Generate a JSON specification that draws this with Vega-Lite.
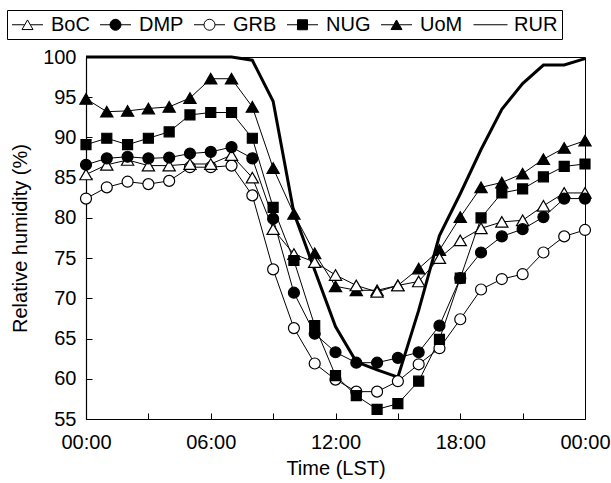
{
  "$schema": "https://vega.github.io/schema/vega-lite/v6.json",
  "width": 499,
  "height": 362,
  "autosize": {"type": "none"},
  "padding": {"left": 86, "top": 57, "right": 26, "bottom": 64},
  "background": "white",
  "config": {
    "font": "Liberation Sans",
    "view": {"stroke": "black", "strokeWidth": 1},
    "axis": {
      "grid": false,
      "domainColor": "black",
      "tickColor": "black",
      "labelColor": "black",
      "titleColor": "black",
      "labelFont": "Liberation Sans",
      "titleFont": "Liberation Sans",
      "labelFontSize": 20,
      "titleFontSize": 20,
      "titleFontWeight": "normal",
      "tickSize": -6,
      "labelPadding": 16,
      "domainWidth": 1.2
    },
    "legend": {
      "title": null,
      "orient": "none",
      "legendX": -79,
      "legendY": -47,
      "direction": "horizontal",
      "strokeColor": "black",
      "padding": 4,
      "labelFont": "Liberation Sans",
      "labelFontSize": 20,
      "labelColor": "black",
      "symbolSize": 400,
      "symbolOffset": 6,
      "labelOffset": 13,
      "columnPadding": 8,
      "symbolOpacity": 1,
      "symbolStrokeColor": "black"
    }
  },
  "data": {
    "values": [
      {"h": 0, "BoC": 85.4, "DMP": 86.6, "GRB": 82.4, "NUG": 89.1, "UoM": 94.8, "RUR": 100},
      {"h": 1, "BoC": 86.6, "DMP": 87.4, "GRB": 83.8, "NUG": 89.9, "UoM": 93.2, "RUR": 100},
      {"h": 2, "BoC": 87.2, "DMP": 87.6, "GRB": 84.5, "NUG": 89.1, "UoM": 93.3, "RUR": 100},
      {"h": 3, "BoC": 86.5, "DMP": 87.4, "GRB": 84.2, "NUG": 89.9, "UoM": 93.6, "RUR": 100},
      {"h": 4, "BoC": 86.5, "DMP": 87.5, "GRB": 84.6, "NUG": 90.7, "UoM": 93.8, "RUR": 100},
      {"h": 5, "BoC": 86.7, "DMP": 88.0, "GRB": 86.3, "NUG": 92.8, "UoM": 94.9, "RUR": 100},
      {"h": 6, "BoC": 86.7, "DMP": 88.2, "GRB": 86.3, "NUG": 93.1, "UoM": 97.3, "RUR": 100},
      {"h": 7, "BoC": 87.8, "DMP": 88.8, "GRB": 86.5, "NUG": 93.1, "UoM": 97.3, "RUR": 100},
      {"h": 8, "BoC": 85.0, "DMP": 87.4, "GRB": 82.8, "NUG": 89.9, "UoM": 93.8, "RUR": 99.6},
      {"h": 9, "BoC": 78.6, "DMP": 79.9, "GRB": 73.6, "NUG": 81.3, "UoM": 86.2, "RUR": 94.5},
      {"h": 10, "BoC": 75.5, "DMP": 70.7, "GRB": 66.3, "NUG": 74.7, "UoM": 80.5, "RUR": 80.6},
      {"h": 11, "BoC": 74.5, "DMP": 65.6, "GRB": 61.9, "NUG": 66.6, "UoM": 75.6, "RUR": 73.5},
      {"h": 12, "BoC": 72.9, "DMP": 63.3, "GRB": 59.9, "NUG": 60.4, "UoM": 71.5, "RUR": 66.5},
      {"h": 13, "BoC": 71.6, "DMP": 62.0, "GRB": 58.4, "NUG": 57.9, "UoM": 71.0, "RUR": 62.1},
      {"h": 14, "BoC": 70.8, "DMP": 62.0, "GRB": 58.4, "NUG": 56.2, "UoM": 71.0, "RUR": 61.1},
      {"h": 15, "BoC": 71.6, "DMP": 62.6, "GRB": 59.7, "NUG": 56.9, "UoM": 71.6, "RUR": 60.2},
      {"h": 16, "BoC": 72.1, "DMP": 63.3, "GRB": 61.8, "NUG": 59.7, "UoM": 73.7, "RUR": 68.5},
      {"h": 17, "BoC": 75.0, "DMP": 66.6, "GRB": 63.8, "NUG": 64.9, "UoM": 76.0, "RUR": 77.8},
      {"h": 18, "BoC": 77.2, "DMP": 72.5, "GRB": 67.4, "NUG": 72.5, "UoM": 80.1, "RUR": 83.0},
      {"h": 19, "BoC": 78.7, "DMP": 75.7, "GRB": 71.1, "NUG": 80.0, "UoM": 83.8, "RUR": 88.5},
      {"h": 20, "BoC": 79.5, "DMP": 77.7, "GRB": 72.4, "NUG": 83.1, "UoM": 84.4, "RUR": 93.5},
      {"h": 21, "BoC": 79.7, "DMP": 78.6, "GRB": 73.0, "NUG": 83.6, "UoM": 85.5, "RUR": 96.7},
      {"h": 22, "BoC": 81.5, "DMP": 80.1, "GRB": 75.7, "NUG": 85.1, "UoM": 87.3, "RUR": 99.0},
      {"h": 23, "BoC": 83.1, "DMP": 82.4, "GRB": 77.7, "NUG": 86.4, "UoM": 88.7, "RUR": 99.0},
      {"h": 24, "BoC": 83.1, "DMP": 82.4, "GRB": 78.5, "NUG": 86.7, "UoM": 89.6, "RUR": 99.8}
    ]
  },
  "transform": [
    {"fold": ["GRB", "UoM", "BoC", "DMP", "NUG", "RUR"], "as": ["series", "rh"]}
  ],
  "encoding": {
    "x": {
      "field": "h",
      "type": "quantitative",
      "scale": {"domain": [0, 24], "nice": false},
      "axis": {
        "values": [0, 3, 6, 9, 12, 15, 18, 21, 24],
        "labelExpr": "datum.value % 6 === 0 ? ((datum.value % 24) < 10 ? '0' : '') + (datum.value % 24) + ':00' : ''",
        "labelOverlap": false,
        "labelFlush": false,
        "labelPadding": 19,
        "title": "Time (LST)",
        "titlePadding": 6
      }
    },
    "y": {
      "field": "rh",
      "type": "quantitative",
      "scale": {"domain": [55, 100], "nice": false, "zero": false},
      "axis": {
        "values": [55, 60, 65, 70, 75, 80, 85, 90, 95, 100],
        "title": "Relative humidity (%)",
        "titlePadding": 12
      }
    }
  },
  "layer": [
    {
      "transform": [{"filter": "datum.series !== 'RUR'"}],
      "mark": {"type": "line", "color": "black", "strokeWidth": 1},
      "encoding": {"detail": {"field": "series", "type": "nominal"}}
    },
    {
      "transform": [{"filter": "datum.series === 'RUR'"}],
      "mark": {"type": "line", "color": "black", "strokeWidth": 3, "strokeJoin": "miter"},
      "encoding": {}
    },
    {
      "transform": [{"filter": "datum.series === 'GRB'"}],
      "mark": {"type": "point", "shape": "circle", "size": 121, "fill": "white", "stroke": "black", "strokeWidth": 1.2, "opacity": 1},
      "encoding": {}
    },
    {
      "transform": [{"filter": "datum.series === 'UoM'"}],
      "mark": {"type": "point", "shape": "triangle-up", "size": 150, "fill": "black", "stroke": "black", "strokeWidth": 1.2, "opacity": 1},
      "encoding": {}
    },
    {
      "transform": [{"filter": "datum.series === 'BoC'"}],
      "mark": {"type": "point", "shape": "triangle-up", "size": 150, "fill": "white", "stroke": "black", "strokeWidth": 1.2, "opacity": 1},
      "encoding": {}
    },
    {
      "transform": [{"filter": "datum.series === 'DMP'"}],
      "mark": {"type": "point", "shape": "circle", "size": 121, "fill": "black", "stroke": "black", "strokeWidth": 1.2, "opacity": 1},
      "encoding": {}
    },
    {
      "transform": [{"filter": "datum.series === 'NUG'"}],
      "mark": {"type": "point", "shape": "square", "size": 100, "fill": "black", "stroke": "black", "strokeWidth": 1.2, "opacity": 1},
      "encoding": {}
    },
    {
      "transform": [{"filter": "datum.h === 0"}],
      "mark": {"type": "point", "filled": false, "opacity": 0},
      "encoding": {
        "shape": {
          "field": "series",
          "type": "nominal",
          "scale": {
            "domain": ["BoC", "DMP", "GRB", "NUG", "UoM", "RUR"],
            "range": [
              "M-1.55,0L-0.28,0M0.28,0L1.55,0M0,-0.48L0.55,0.48L-0.55,0.48Z",
              "M-1.55,0L-0.55,0M0.55,0L1.55,0M0.55,0C0.55,0.3,0.3,0.55,0,0.55C-0.3,0.55,-0.55,0.3,-0.55,0C-0.55,-0.3,-0.3,-0.55,0,-0.55C0.3,-0.55,0.55,-0.3,0.55,0Z",
              "M-1.55,0L-0.55,0M0.55,0L1.55,0M0.55,0C0.55,0.3,0.3,0.55,0,0.55C-0.3,0.55,-0.55,0.3,-0.55,0C-0.55,-0.3,-0.3,-0.55,0,-0.55C0.3,-0.55,0.55,-0.3,0.55,0Z",
              "M-1.55,0L-0.5,0M0.5,0L1.55,0M-0.5,-0.5L0.5,-0.5L0.5,0.5L-0.5,0.5Z",
              "M-1.55,0L-0.28,0M0.28,0L1.55,0M0,-0.48L0.55,0.48L-0.55,0.48Z",
              "M-1.7,0L1.7,0"
            ]
          }
        },
        "fill": {
          "field": "series",
          "type": "nominal",
          "scale": {
            "domain": ["BoC", "DMP", "GRB", "NUG", "UoM", "RUR"],
            "range": ["white", "black", "white", "black", "black", "black"]
          }
        },
        "stroke": {
          "field": "series",
          "type": "nominal",
          "scale": {
            "domain": ["BoC", "DMP", "GRB", "NUG", "UoM", "RUR"],
            "range": ["black", "black", "black", "black", "black", "black"]
          }
        },
        "strokeWidth": {
          "field": "series",
          "type": "nominal",
          "scale": {
            "domain": ["BoC", "DMP", "GRB", "NUG", "UoM", "RUR"],
            "range": [1, 1, 1, 1, 1, 3]
          }
        }
      }
    }
  ]
}
